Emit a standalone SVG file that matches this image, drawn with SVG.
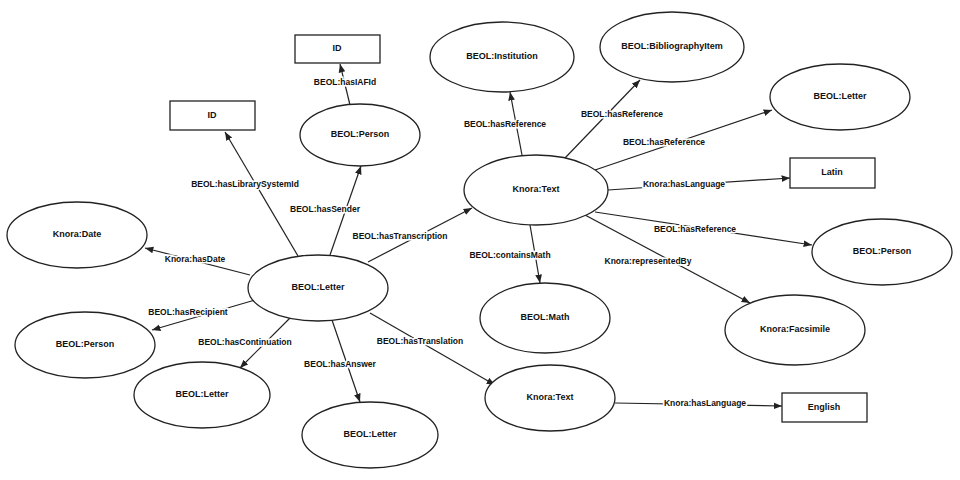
<svg xmlns="http://www.w3.org/2000/svg" width="960" height="480" viewBox="0 0 960 480">
<style>
.n ellipse,.n rect{fill:#fff;stroke:#222;stroke-width:1.3}
.n text{font-family:"Liberation Sans",Arial,sans-serif;font-size:9px;font-weight:bold;text-anchor:middle;dominant-baseline:middle;fill:#111}
#edges line{stroke:#222;stroke-width:1.2;marker-end:url(#a)}
#edges text{font-family:"Liberation Sans",Arial,sans-serif;font-size:8.5px;font-weight:bold;text-anchor:middle;dominant-baseline:middle;fill:#111;stroke:#fff;stroke-width:3;paint-order:stroke}
</style>
<defs><marker id="a" viewBox="0 0 10 10" refX="10" refY="5" markerWidth="7" markerHeight="7" orient="auto"><path d="M0,1L10,5L0,9z" fill="#222"/></marker></defs>
<rect width="960" height="480" fill="#fff"/>
<g id="edges">
<line x1="298" y1="256" x2="225" y2="132"/><text x="245" y="185">BEOL:hasLibrarySystemId</text>
<line x1="330" y1="255" x2="361" y2="166"/><text x="325" y="210">BEOL:hasSender</text>
<line x1="350" y1="105" x2="340" y2="64"/><text x="345" y="83">BEOL:hasIAFId</text>
<line x1="368" y1="262" x2="472" y2="208"/><text x="400" y="237">BEOL:hasTranscription</text>
<line x1="250" y1="275" x2="145" y2="248"/><text x="195" y="260">Knora:hasDate</text>
<line x1="255" y1="300" x2="152" y2="330"/><text x="188" y="313">BEOL:hasRecipient</text>
<line x1="290" y1="318" x2="240" y2="368"/><text x="245" y="343">BEOL:hasContinuation</text>
<line x1="332" y1="320" x2="360" y2="402"/><text x="340" y="365">BEOL:hasAnswer</text>
<line x1="370" y1="313" x2="495" y2="385"/><text x="420" y="342">BEOL:hasTranslation</text>
<line x1="615" y1="403" x2="782" y2="406"/><text x="705" y="404">Knora:hasLanguage</text>
<line x1="522" y1="155" x2="510" y2="92"/><text x="505" y="125">BEOL:hasReference</text>
<line x1="565" y1="158" x2="640" y2="80"/><text x="622" y="115">BEOL:hasReference</text>
<line x1="595" y1="170" x2="772" y2="110"/><text x="664" y="143">BEOL:hasReference</text>
<line x1="608" y1="190" x2="790" y2="178"/><text x="684" y="185">Knora:hasLanguage</text>
<line x1="595" y1="212" x2="812" y2="245"/><text x="695" y="230">BEOL:hasReference</text>
<line x1="585" y1="215" x2="750" y2="303"/><text x="648" y="262">Knora:representedBy</text>
<line x1="530" y1="225" x2="540" y2="283"/><text x="510" y="256">BEOL:containsMath</text>
</g>
<g id="date" class="n"><ellipse cx="77" cy="235" rx="70" ry="33"/><text x="77" y="235">Knora:Date</text></g>
<g id="personL" class="n"><ellipse cx="85" cy="345" rx="70" ry="33"/><text x="85" y="345">BEOL:Person</text></g>
<g id="letterBL" class="n"><ellipse cx="202" cy="395" rx="68" ry="33"/><text x="202" y="395">BEOL:Letter</text></g>
<g id="letterB" class="n"><ellipse cx="370" cy="435" rx="68" ry="33"/><text x="370" y="435">BEOL:Letter</text></g>
<g id="letterC" class="n"><ellipse cx="318" cy="288" rx="70" ry="33"/><text x="318" y="288">BEOL:Letter</text></g>
<g id="personT" class="n"><ellipse cx="360" cy="135" rx="60" ry="31"/><text x="360" y="135">BEOL:Person</text></g>
<g id="idT" class="n"><rect x="295" y="35" width="85" height="28"/><text x="337" y="49">ID</text></g>
<g id="idL" class="n"><rect x="170" y="101" width="85" height="29"/><text x="212" y="116">ID</text></g>
<g id="textC" class="n"><ellipse cx="536" cy="190" rx="72" ry="35"/><text x="536" y="190">Knora:Text</text></g>
<g id="inst" class="n"><ellipse cx="502" cy="57" rx="72" ry="35"/><text x="502" y="57">BEOL:Institution</text></g>
<g id="bib" class="n"><ellipse cx="672" cy="47" rx="72" ry="35"/><text x="672" y="47">BEOL:BibliographyItem</text></g>
<g id="letterR" class="n"><ellipse cx="840" cy="97" rx="70" ry="33"/><text x="840" y="97">BEOL:Letter</text></g>
<g id="latin" class="n"><rect x="790" y="158" width="85" height="30"/><text x="832" y="173">Latin</text></g>
<g id="personR" class="n"><ellipse cx="882" cy="252" rx="70" ry="33"/><text x="882" y="252">BEOL:Person</text></g>
<g id="facs" class="n"><ellipse cx="795" cy="330" rx="70" ry="35"/><text x="795" y="330">Knora:Facsimile</text></g>
<g id="math" class="n"><ellipse cx="545" cy="318" rx="65" ry="35"/><text x="545" y="318">BEOL:Math</text></g>
<g id="textB" class="n"><ellipse cx="550" cy="398" rx="65" ry="33"/><text x="550" y="398">Knora:Text</text></g>
<g id="english" class="n"><rect x="782" y="393" width="85" height="29"/><text x="824" y="408">English</text></g>
</svg>
